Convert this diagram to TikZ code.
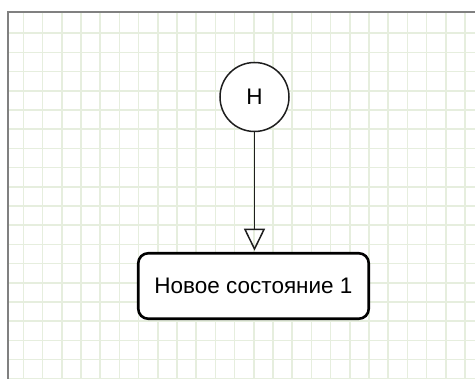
\documentclass[tikz,border=0pt]{standalone}
\usepackage{fontspec}
\setmainfont{Liberation Sans}
\usetikzlibrary{arrows.meta}
\definecolor{gridgreen}{RGB}{230,238,222}
\definecolor{framegray}{RGB}{128,128,128}
\definecolor{linegray}{RGB}{30,30,30}
\tikzset{
  historynode/.style={circle, draw=linegray, line width=1.5pt, minimum size=69pt, inner sep=0pt, fill=white, font=\fontsize{22.5}{26}\selectfont},
  statenode/.style={rectangle, rounded corners=10pt, draw=black, line width=2.6pt, minimum width=230.5pt, minimum height=65.5pt, inner sep=0pt, fill=white, font=\fontsize{22.5}{26}\selectfont},
  transition/.style={draw=linegray, line width=1.6pt, -{Triangle[open, width=21pt, length=22pt, line width=1.5pt]}},
  gridline/.style={gridgreen, line width=1.6pt}
}

\begin{document}
\begin{tikzpicture}[x=1pt, y=-1pt]
  \useasboundingbox (0,0) rectangle (475,379);
  % grid
  \foreach \gx in {0,...,23} {
    \draw[gridline] (23.3+19.2*\gx, 13) -- (23.3+19.2*\gx, 379);
  }
  \foreach \gy in {0,...,18} {
    \draw[gridline] (9, 33.3+19.2*\gy) -- (475, 33.3+19.2*\gy);
  }
  % frame
  \draw[framegray, line width=2pt] (475,12.5) -| (8,379);

  \node[historynode] (hist) at (254.5,97) {H};
  \node[statenode] (state) at (253.5,286) {Новое состояние 1};

  \draw[transition, shorten >=1.2pt] (hist) -- (hist |- state.north);
\end{tikzpicture}
\end{document}
